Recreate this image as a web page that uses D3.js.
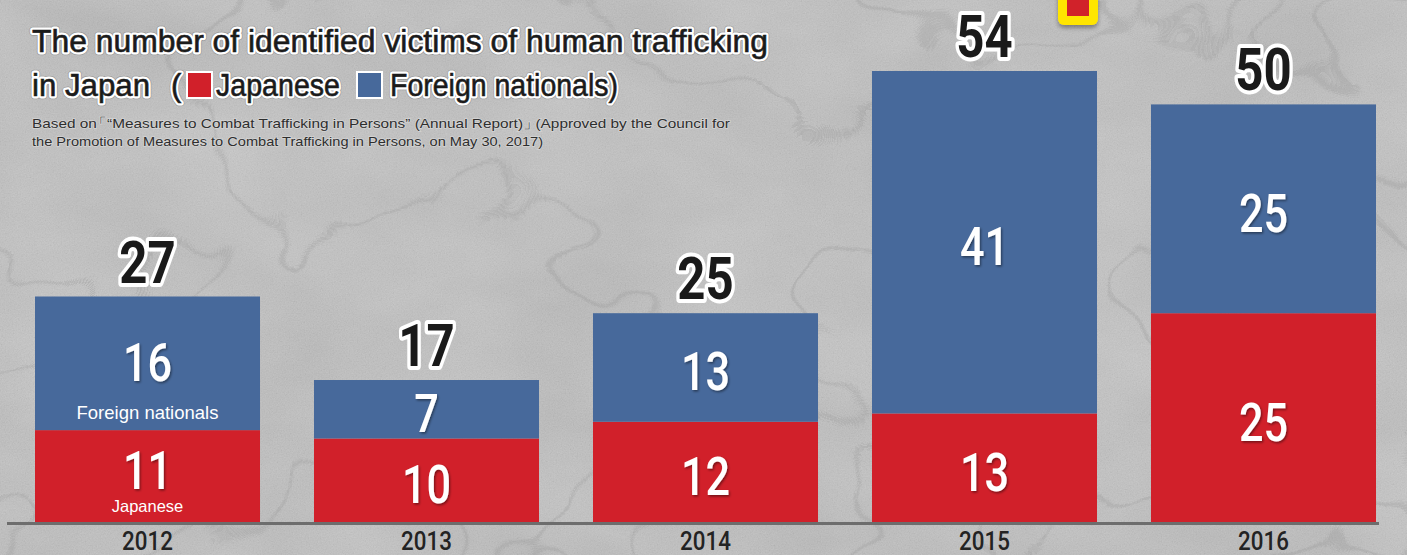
<!DOCTYPE html>
<html>
<head>
<meta charset="utf-8">
<script src="https://cdn.jsdelivr.net/npm/d3@7"></script>
<style>
  html, body { margin: 0; padding: 0; background: #bcbcbc; overflow: hidden; }
  svg { display: block; }
</style>
</head>
<body>
<script>
// ---- data ----
const years = ["2012", "2013", "2014", "2015", "2016"];
const japanese = [11, 10, 12, 13, 25];
const foreign = [16, 7, 13, 41, 25];
const totals = [27, 17, 25, 54, 50];
const seriesKeys = ["japanese", "foreign"];
const seriesNames = ["Japanese", "Foreign nationals"];
const titleLine1 = "The number of identified victims of human trafficking";
const titleLine2 = "in Japan";
const sourceLine1 = ["Based on", "\u300c", "\u201cMeasures to Combat Trafficking in Persons\u201d (Annual Report)", "\u300d", "(Approved by the Council for"];
const sourceLine2 = "the Promotion of Measures to Combat Trafficking in Persons, on May 30, 2017)";

// ---- setup ----
const W = 1407, H = 555;
const RED = "#d1202a", BLUE = "#47699b";
const color = d3.scaleOrdinal().domain(seriesKeys).range([RED, BLUE]);

const svg = d3.select("body").append("svg").attr("width", W).attr("height", H);
const defs = svg.append("defs");

function fullFilter(id) {
  return defs.append("filter").attr("id", id)
    .attr("filterUnits", "userSpaceOnUse").attr("x", 0).attr("y", 0).attr("width", W).attr("height", H);
}
// fine grain
const f = fullFilter("grain");
f.append("feTurbulence").attr("type", "fractalNoise").attr("baseFrequency", "0.75").attr("numOctaves", 3).attr("seed", 7).attr("result", "n");
f.append("feColorMatrix").attr("in", "n").attr("type", "matrix")
  .attr("values", "0.33 0.33 0.33 0 0  0.33 0.33 0.33 0 0  0.33 0.33 0.33 0 0  0 0 0 0 1");
// broad cloudy variation
const f2 = fullFilter("cloud");
f2.append("feTurbulence").attr("type", "fractalNoise").attr("baseFrequency", "0.006 0.01").attr("numOctaves", 4).attr("seed", 3).attr("result", "n");
f2.append("feColorMatrix").attr("in", "n").attr("type", "matrix")
  .attr("values", "0.33 0.33 0.33 0 0  0.33 0.33 0.33 0 0  0.33 0.33 0.33 0 0  0 0 0 0 1");
// sparse crack-like iso lines
function crackFilter(id, freq, seed, oct) {
  const c = fullFilter(id);
  c.append("feTurbulence").attr("type", "fractalNoise").attr("baseFrequency", freq).attr("numOctaves", oct).attr("seed", seed).attr("result", "n");
  c.append("feColorMatrix").attr("in", "n").attr("type", "matrix")
    .attr("values", "0 0 0 0 0.3  0 0 0 0 0.3  0 0 0 0 0.3  1 0 0 0 0").attr("result", "a");
  const tv = d3.range(81).map(i => (i === 40 ? 0.8 : 0)).join(" ");
  c.append("feComponentTransfer").attr("in", "a").append("feFuncA").attr("type", "table").attr("tableValues", tv);
}
crackFilter("crack1", "0.0035 0.004", 11, 4);

const shadow = defs.append("filter").attr("id", "shadow").attr("x", "-20%").attr("y", "-20%").attr("width", "140%").attr("height", "140%");
shadow.append("feDropShadow").attr("dx", 1.5).attr("dy", 1.5).attr("stdDeviation", 1).attr("flood-color", "#000").attr("flood-opacity", 0.45);
const shadow2 = defs.append("filter").attr("id", "shadow2").attr("x", "-20%").attr("y", "-20%").attr("width", "140%").attr("height", "160%");
shadow2.append("feDropShadow").attr("dx", 0).attr("dy", 3).attr("stdDeviation", 2).attr("flood-color", "#000").attr("flood-opacity", 0.35);

svg.append("rect").attr("width", W).attr("height", H).attr("fill", "#c3c3c3");
svg.append("rect").attr("width", W).attr("height", H).attr("filter", "url(#cloud)").attr("opacity", 0.22);
svg.append("rect").attr("width", W).attr("height", H).attr("filter", "url(#grain)").attr("opacity", 0.18);
svg.append("rect").attr("width", W).attr("height", H).attr("filter", "url(#crack1)").attr("opacity", 0.4);

// ---- scales ----
const x = d3.scaleBand().domain(years).range([35, 1376]).paddingInner(0.1935).paddingOuter(0);
const y = d3.scaleLinear().domain([0, d3.max(totals)]).range([522, 71]);

const table = years.map((yr, i) => ({ year: yr, japanese: japanese[i], foreign: foreign[i], total: totals[i] }));
const stacked = d3.stack().keys(seriesKeys)(table);
const firstYear = years[0];

// ---- bars ----
const layers = svg.append("g").selectAll("g").data(stacked).join("g").attr("fill", d => color(d.key));
layers.selectAll("rect").data(d => d).join("rect")
  .attr("x", d => x(d.data.year))
  .attr("y", d => y(d[1]))
  .attr("width", x.bandwidth())
  .attr("height", d => y(d[0]) - y(d[1]));

// segment value labels
const numFont = "Roboto, 'DejaVu Sans Condensed', sans-serif";
stacked.forEach(layer => {
  svg.append("g").selectAll("text").data(layer).join("text")
    .attr("transform", d => {
      const cx = x(d.data.year) + x.bandwidth() / 2;
      const off = d.data.year === firstYear ? (layer.key === "japanese" ? -6 : -1) : 4;
      const cy = (y(d[0]) + y(d[1])) / 2 + off + 19;
      return `translate(${cx},${cy}) scale(0.8,1)`;
    })
    .attr("text-anchor", "middle")
    .attr("font-family", numFont)
    .attr("font-weight", 500)
    .attr("font-size", 54)
    .attr("fill", "#fff")
    .attr("filter", "url(#shadow)")
    .text(d => d.data[layer.key]);
});

// in-bar series names for the first year
svg.append("text")
  .attr("x", x(firstYear) + x.bandwidth() / 2)
  .attr("y", y(japanese[0]) - 11)
  .attr("text-anchor", "middle")
  .attr("font-family", "'Liberation Sans', Arial, sans-serif")
  .attr("font-size", 18.5)
  .attr("fill", "#fff")
  .text(seriesNames[1]);
svg.append("text")
  .attr("x", x(firstYear) + x.bandwidth() / 2)
  .attr("y", y(0) - 10)
  .attr("text-anchor", "middle")
  .attr("font-family", "'Liberation Sans', Arial, sans-serif")
  .attr("font-size", 16.5)
  .attr("fill", "#fff")
  .text(seriesNames[0]);

// totals
svg.append("g").selectAll("text").data(table).join("text")
  .attr("transform", d => `translate(${x(d.year) + x.bandwidth() / 2},${y(d.total) - 14}) scale(0.82,1)`)
  .attr("text-anchor", "middle")
  .attr("font-family", numFont)
  .attr("font-weight", 700)
  .attr("font-size", 60)
  .attr("fill", "#1a1a1a")
  .attr("stroke", "#fff")
  .attr("stroke-width", 8)
  .attr("stroke-linejoin", "round")
  .attr("paint-order", "stroke")
  .text(d => d.total);

// ---- axis ----
const xAxis = d3.axisBottom(x).tickSize(0).tickPadding(0);
const ax = svg.append("g").attr("transform", `translate(0,${y(0)})`).call(xAxis);
ax.select(".domain").remove();
ax.append("line").attr("x1", 7).attr("x2", 1379).attr("y1", 1.5).attr("y2", 1.5)
  .attr("stroke", "#6d6d6d").attr("stroke-width", 3);
ax.selectAll(".tick text")
  .attr("y", 0).attr("dy", 0)
  .attr("transform", "translate(0,28) scale(0.86,1)")
  .attr("font-family", numFont)
  .attr("font-weight", 500)
  .attr("font-size", 26)
  .attr("fill", "#232323");

// ---- title ----
const titleFont = "'Liberation Sans', Arial, sans-serif";
function outlinedText(px, py, str, len) {
  const g = svg.append("g");
  const mk = () => {
    const t = g.append("text").attr("x", px).attr("y", py).attr("font-family", titleFont).attr("font-size", 31).text(str);
    if (len) t.attr("textLength", len).attr("lengthAdjust", "spacingAndGlyphs");
    return t;
  };
  mk().attr("fill", "none").attr("stroke", "#555").attr("stroke-width", 6.5).attr("stroke-linejoin", "round").attr("stroke-opacity", 0.35);
  mk().attr("fill", "none").attr("stroke", "#fff").attr("stroke-width", 5).attr("stroke-linejoin", "round");
  mk().attr("fill", "#1b1b1b").attr("stroke", "#1b1b1b").attr("stroke-width", 0.6);
}
outlinedText(32, 52, titleLine1, 736);
outlinedText(32, 96, titleLine2, 118);
outlinedText(171, 96, "(", null);
// legend squares
const legendSq = [{ key: "japanese", x: 187 }, { key: "foreign", x: 357 }];
svg.append("g").selectAll("rect").data(legendSq).join("rect")
  .attr("x", d => d.x).attr("y", 72).attr("width", 25).attr("height", 26)
  .attr("fill", d => color(d.key)).attr("stroke", "#fff").attr("stroke-width", 2);
outlinedText(216, 96, seriesNames[0], 124);
outlinedText(390, 96, seriesNames[1] + ")", 228);

// source note
function srcText(py, len) {
  return svg.append("text").attr("x", 32).attr("y", py)
    .attr("textLength", len).attr("lengthAdjust", "spacingAndGlyphs")
    .attr("font-family", titleFont).attr("font-size", 13.5)
    .attr("fill", "#2e2e2e")
    .attr("stroke", "#d4d4d4").attr("stroke-width", 1.5).attr("paint-order", "stroke");
}
const s1 = srcText(128, 698);
s1.selectAll("tspan").data(sourceLine1).join("tspan")
  .attr("dx", (d, i) => (i === 1 ? -5 : i === 4 ? -3 : 0))
  .text(d => d);
srcText(146, 511).text(sourceLine2);

// decorative marker at top
const mk = svg.append("g").attr("filter", "url(#shadow2)");
mk.append("rect").attr("x", 1058).attr("y", -12).attr("width", 40).attr("height", 37).attr("rx", 6).attr("fill", "#ffe500");
mk.append("rect").attr("x", 1067).attr("y", -8).attr("width", 22).attr("height", 24).attr("fill", RED);
</script>
</body>
</html>
